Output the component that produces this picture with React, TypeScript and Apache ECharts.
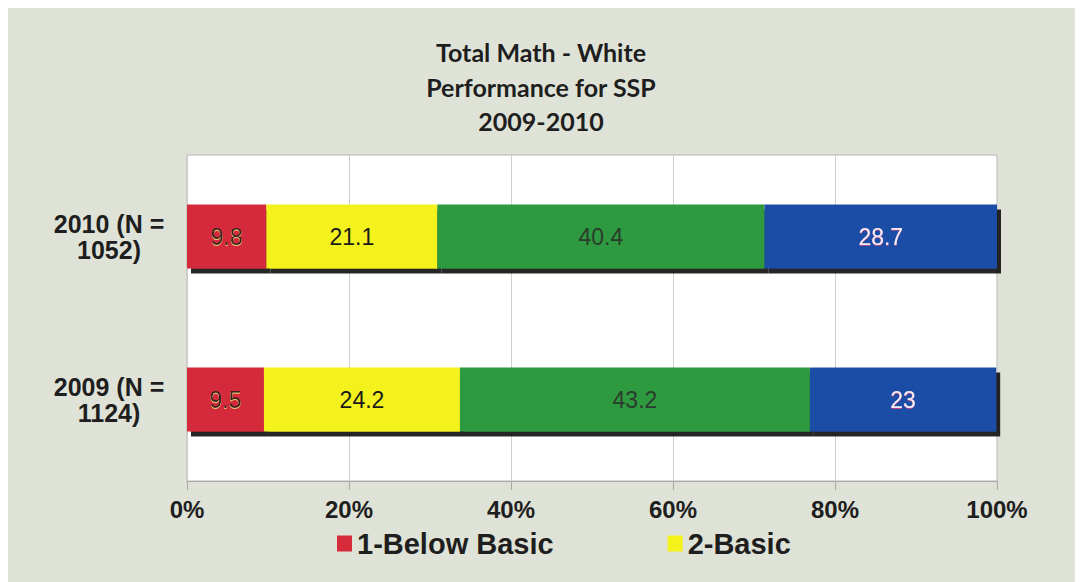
import React, { useEffect, useRef } from "react";
import * as echarts from "echarts";

const categories = ["2009 (N =\n1124)", "2010 (N =\n1052)"];
const belowBasic = [9.5, 9.8];
const basic = [24.2, 21.1];
const proficient = [43.2, 40.4];
const advanced = [23, 28.7];
const legendItems = ["1-Below Basic", "2-Basic"];
const titleText = "Total Math - White\nPerformance for SSP\n2009-2010";

const barShadow = {
  shadowColor: "rgba(15,15,15,0.9)",
  shadowOffsetX: 4,
  shadowOffsetY: 5,
  shadowBlur: 1,
};

const labelBase = {
  show: true,
  position: "inside" as const,
  fontFamily: "'Liberation Sans', Arial, sans-serif",
  fontSize: 23,
};

export default function App() {
  const ref = useRef<HTMLDivElement>(null);

  useEffect(() => {
    if (!ref.current) return;
    const chart = echarts.init(ref.current, undefined, { renderer: "svg" });
    chart.setOption({
      animation: false,
      backgroundColor: "#dfe3d7",
      title: {
        text: titleText,
        left: 528,
        textAlign: "center",
        top: 22,
        textStyle: {
          fontFamily: "Lato, 'Open Sans', sans-serif",
          fontWeight: "bold",
          fontSize: 25,
          lineHeight: 34.5,
          color: "#1e1e1e",
        },
      },
      legend: {
        data: legendItems,
        left: 324,
        top: 516,
        icon: "rect",
        itemWidth: 15,
        itemHeight: 16,
        itemGap: 114,
        textStyle: {
          fontFamily: "'Liberation Sans', Arial, sans-serif",
          fontWeight: "bold",
          fontSize: 29,
          color: "#1e1e1e",
        },
      },
      grid: {
        left: 179,
        top: 147,
        right: 86,
        bottom: 101,
        show: true,
        backgroundColor: "#ffffff",
        borderColor: "#b4b4b4",
        borderWidth: 1,
      },
      xAxis: {
        type: "value",
        min: 0,
        max: 100,
        interval: 20,
        axisLine: { show: true, lineStyle: { color: "#a8a8a8" } },
        axisTick: { show: true, length: 9, lineStyle: { color: "#a8a8a8" } },
        splitLine: { show: true, lineStyle: { color: "#cfcfcf" } },
        axisLabel: {
          formatter: "{value}%",
          margin: 16,
          fontFamily: "'Liberation Sans', Arial, sans-serif",
          fontWeight: "bold",
          fontSize: 24,
          lineHeight: 24,
          color: "#1e1e1e",
        },
      },
      yAxis: {
        type: "category",
        data: categories,
        axisLine: { show: false },
        axisTick: { show: false },
        axisLabel: {
          align: "center",
          margin: 78,
          fontFamily: "'Liberation Sans', Arial, sans-serif",
          fontWeight: "bold",
          fontSize: 25,
          lineHeight: 26,
          color: "#1e1e1e",
        },
      },
      series: [
        {
          name: "1-Below Basic",
          type: "bar",
          stack: "total",
          barWidth: 64,
          data: belowBasic,
          itemStyle: { color: "#d52b3b", ...barShadow },
          label: {
            ...labelBase,
            color: "#3a2424",
            textShadowColor: "#e8c878",
            textShadowOffsetY: 1,
            textShadowBlur: 1,
          },
        },
        {
          name: "2-Basic",
          type: "bar",
          stack: "total",
          data: basic,
          itemStyle: { color: "#f4f21a", ...barShadow },
          label: { ...labelBase, color: "#1a1a1a" },
        },
        {
          name: "3-Proficient",
          type: "bar",
          stack: "total",
          data: proficient,
          itemStyle: { color: "#2f9a40", ...barShadow },
          label: { ...labelBase, color: "#2a3a2c" },
        },
        {
          name: "4-Advanced",
          type: "bar",
          stack: "total",
          data: advanced,
          itemStyle: { color: "#1f4ea6", ...barShadow },
          label: {
            ...labelBase,
            color: "#f6eaf4",
            textShadowColor: "#b04a8a",
            textShadowOffsetY: 1,
            textShadowBlur: 1,
          },
        },
      ],
    });
    return () => chart.dispose();
  }, []);

  return <div ref={ref} style={{ width: 1075, height: 574 }} />;
}
